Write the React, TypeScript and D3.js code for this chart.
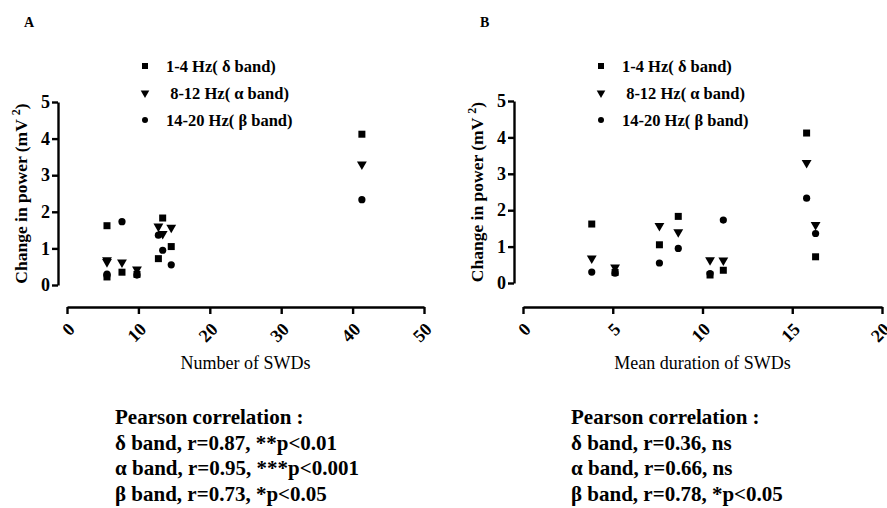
import React, { useEffect, useRef } from 'react';
import * as d3 from 'd3';

// one entry per animal (8 animals)
const swdCount = [5.6, 5.6, 7.7, 9.8, 12.8, 13.4, 14.6, 41.3];
const swdDuration = [3.83, 10.42, 11.16, 5.13, 16.3, 8.65, 7.6, 15.8];
const deltaPower = [1.62, 0.22, 0.35, 0.29, 0.72, 1.83, 1.05, 4.12];
const alphaPower = [0.68, 0.63, 0.62, 0.43, 1.6, 1.4, 1.57, 3.3];
const betaPower = [0.3, 0.26, 1.73, 0.27, 1.36, 0.95, 0.55, 2.33];

const legendLabels = ['1-4 Hz( δ band)', ' 8-12 Hz( α band)', '14-20 Hz( β band)'];
const yTicks = [0, 1, 2, 3, 4, 5];
const xTicksA = [0, 10, 20, 30, 40, 50];
const xTicksB = [0, 5, 10, 15, 20];

const statsA = ['Pearson correlation :', 'δ band, r=0.87, **p<0.01', 'α band, r=0.95, ***p<0.001', 'β band, r=0.73, *p<0.05'];
const statsB = ['Pearson correlation :', 'δ band, r=0.36, ns', 'α band, r=0.66, ns', 'β band, r=0.78, *p<0.05'];

const FONT = '"Liberation Serif", "Times New Roman", serif';

type Panel = {
  letter: string;
  xs: number[];
  xDomain: [number, number];
  xRange: [number, number];
  yRange: [number, number];
  xTicks: number[];
  xTitle: string;
  stats: string[];
  left: number;
};

const panels: Panel[] = [
  { letter: 'A', xs: swdCount, xDomain: [0, 50], xRange: [67, 424], yRange: [285, 102], xTicks: xTicksA, xTitle: 'Number of SWDs', stats: statsA, left: 0 },
  { letter: 'B', xs: swdDuration, xDomain: [0, 20], xRange: [523, 882], yRange: [283, 101], xTicks: xTicksB, xTitle: 'Mean duration of SWDs', stats: statsB, left: 456 },
];

const App: React.FC = () => {
  const ref = useRef<SVGSVGElement>(null);

  useEffect(() => {
    if (!ref.current) return;
    const svg = d3.select(ref.current);
    svg.selectAll('*').remove();
    svg.append('rect').attr('width', 887).attr('height', 508).attr('fill', '#fff');

    const tri = d3.symbol().type(d3.symbolTriangle).size(42);

    panels.forEach(p => {
      const g = svg.append('g');
      const x = d3.scaleLinear().domain(p.xDomain).range(p.xRange);
      const y = d3.scaleLinear().domain([0, 5]).range(p.yRange);
      const axisX = p.xRange[0] - 9;
      const axisY = 307;

      g.append('text')
        .attr('x', p.left + 24).attr('y', 27)
        .attr('font-family', FONT).attr('font-weight', 'bold').attr('font-size', 14)
        .text(p.letter);

      // y axis
      const ya = g.append('g')
        .attr('transform', `translate(${axisX},0)`)
        .call(d3.axisLeft(y).tickValues(yTicks).tickFormat(d3.format('d')).tickSize(6).tickSizeOuter(0).tickPadding(2));
      ya.select('.domain').attr('stroke-width', 2.4);
      ya.selectAll('.tick line').attr('stroke-width', 2.4);
      ya.selectAll('.tick text')
        .attr('font-family', FONT).attr('font-weight', 'bold').attr('font-size', 18).attr('fill', '#000');

      // x axis
      const xa = g.append('g')
        .attr('transform', `translate(0,${axisY})`)
        .call(d3.axisBottom(x).tickValues(p.xTicks).tickFormat(d3.format('d')).tickSize(7).tickSizeOuter(0));
      xa.select('.domain').attr('stroke-width', 2.4);
      xa.selectAll('.tick line').attr('stroke-width', 2.4);
      xa.selectAll('.tick text')
        .attr('font-family', FONT).attr('font-weight', 'bold').attr('font-size', 18).attr('fill', '#000')
        .attr('text-anchor', 'end')
        .attr('y', 0).attr('dy', '0.35em')
        .attr('transform', 'translate(4,19) rotate(-45)');

      // y title
      const yt = g.append('text')
        .attr('transform', `translate(${axisX - 31},${(p.yRange[0] + p.yRange[1]) / 2}) rotate(-90)`)
        .attr('text-anchor', 'middle')
        .attr('font-family', FONT).attr('font-weight', 'bold').attr('font-size', 17.5);
      yt.append('tspan').text('Change in power (mV ');
      yt.append('tspan').attr('dy', -7).attr('font-size', 12).text('2');
      yt.append('tspan').attr('dy', 7).text(')');

      // x title
      g.append('text')
        .attr('x', (p.xRange[0] + p.xRange[1]) / 2).attr('y', 369)
        .attr('text-anchor', 'middle')
        .attr('font-family', FONT).attr('font-size', 18)
        .text(p.xTitle);

      // points
      g.selectAll('rect.d').data(p.xs).join('rect')
        .attr('x', (d) => x(d) - 3.5)
        .attr('y', (_, i) => y(deltaPower[i]) - 3.5)
        .attr('width', 7).attr('height', 7).attr('fill', '#000');
      g.selectAll('path.a').data(p.xs).join('path')
        .attr('d', tri)
        .attr('transform', (d, i) => `translate(${x(d)},${y(alphaPower[i])}) rotate(180)`)
        .attr('fill', '#000');
      g.selectAll('circle.b').data(p.xs).join('circle')
        .attr('cx', (d) => x(d))
        .attr('cy', (_, i) => y(betaPower[i]))
        .attr('r', 3.6).attr('fill', '#000');

      // legend
      const lx = p.left + 145;
      legendLabels.forEach((label, i) => {
        const ly = 66 + i * 27;
        if (i === 0) {
          g.append('rect').attr('x', lx - 3).attr('y', ly - 3).attr('width', 6).attr('height', 6).attr('fill', '#000');
        } else if (i === 1) {
          g.append('path').attr('d', d3.symbol().type(d3.symbolTriangle).size(32)())
            .attr('transform', `translate(${lx},${ly}) rotate(180)`).attr('fill', '#000');
        } else {
          g.append('circle').attr('cx', lx).attr('cy', ly).attr('r', 3).attr('fill', '#000');
        }
        g.append('text')
          .attr('x', lx + 21).attr('y', ly + 6)
          .attr('font-family', FONT).attr('font-weight', 'bold').attr('font-size', 16.5)
          .style('white-space', 'pre')
          .text(label);
      });

      // correlation stats
      p.stats.forEach((s, i) => {
        g.append('text')
          .attr('x', p.left + 115).attr('y', 424 + i * 25.5)
          .attr('font-family', FONT).attr('font-weight', 'bold').attr('font-size', 21)
          .style('white-space', 'pre')
          .text(s);
      });
    });
  }, []);

  return (
    <svg
      ref={ref}
      width={887}
      height={508}
      style={{ position: 'absolute', left: 0, top: 0 }}
    />
  );
};

export default App;
